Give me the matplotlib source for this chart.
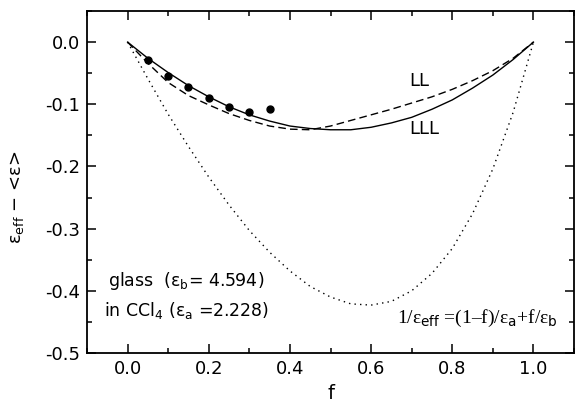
import matplotlib
matplotlib.use('Agg')
import matplotlib.pyplot as plt
from matplotlib.ticker import MultipleLocator

plt.rcParams['font.family'] = ['DejaVu Sans']
plt.rcParams['mathtext.fontset'] = 'custom'
plt.rcParams['mathtext.rm'] = 'DejaVu Sans'
plt.rcParams['mathtext.it'] = 'DejaVu Sans'
plt.rcParams['axes.unicode_minus'] = False

# volume fraction grid
f = [0.0, 0.05, 0.1, 0.15, 0.2, 0.25, 0.3, 0.35, 0.4, 0.45, 0.5,
     0.55, 0.6, 0.65, 0.7, 0.75, 0.8, 0.85, 0.9, 0.95, 1.0]

# LLL (solid)
lll = [0.0, -0.026, -0.049, -0.070, -0.088, -0.104, -0.117, -0.127, -0.135, -0.139, -0.141,
       -0.141, -0.137, -0.130, -0.121, -0.108, -0.093, -0.074, -0.053, -0.028, 0.0]
# LL (dashed)
ll = [0.0, -0.034, -0.065, -0.086, -0.101, -0.115, -0.126, -0.135, -0.140, -0.141, -0.135,
      -0.126, -0.117, -0.108, -0.098, -0.088, -0.076, -0.062, -0.046, -0.026, 0.0]
# 1/eps_eff = (1-f)/eps_a + f/eps_b (dotted)
series = [0.0, -0.059, -0.116, -0.168, -0.217, -0.262, -0.303, -0.338, -0.368, -0.393, -0.410,
          -0.421, -0.423, -0.417, -0.400, -0.372, -0.332, -0.276, -0.204, -0.113, 0.0]

# measured points
f_exp = [0.05, 0.1, 0.15, 0.2, 0.25, 0.3, 0.35]
d_exp = [-0.029, -0.054, -0.073, -0.090, -0.105, -0.113, -0.107]

fig = plt.figure(figsize=(5.75, 4.03), dpi=100)
ax = fig.add_axes([0.1513, 0.1241, 0.8470, 0.8486])

ax.plot(f, lll, color='black', lw=1.0)
ax.plot(f, ll, color='black', lw=1.0, linestyle=(0, (5.5, 3)))
ax.plot(f, series, color='black', lw=1.0, linestyle=(0, (1, 3)))
ax.plot(f_exp, d_exp, 'o', color='black', markersize=5)

ax.set_xlim(-0.1, 1.1)
ax.set_ylim(-0.5, 0.05)
ax.xaxis.set_minor_locator(MultipleLocator(0.1))
ax.yaxis.set_minor_locator(MultipleLocator(0.05))
ax.set_xticks([0.0, 0.2, 0.4, 0.6, 0.8, 1.0])
ax.set_xticklabels(['0.0', '0.2', '0.4', '0.6', '0.8', '1.0'])
ax.set_yticks([0.0, -0.1, -0.2, -0.3, -0.4, -0.5])
ax.set_yticklabels(['0.0', '-0.1', '-0.2', '-0.3', '-0.4', '-0.5'])

ax.tick_params(which='both', direction='in', top=True, right=True, width=1.1, labelsize=13, pad=5)
ax.tick_params(which='major', length=6.5)
ax.tick_params(which='minor', length=3.6)
for s in ax.spines.values():
    s.set_linewidth(1.3)

ax.set_xlabel('f', fontsize=14)
ax.xaxis.set_label_coords(0.5, -0.09)
fig.text(17 / 575, 1 - 197 / 403, 'ε$_{\\mathrm{eff}}$ $-$ <ε>', rotation=90,
         ha='center', va='center', fontsize=13)

ax.text(0.695, -0.063, 'LL', fontsize=13, ha='left', va='center')
ax.text(0.695, -0.139, 'LLL', fontsize=13, ha='left', va='center')
ax.text(0.145, -0.384, 'glass  (ε$_{\\mathrm{b}}$= 4.594)', fontsize=12.5, ha='center', va='center')
ax.text(0.145, -0.431, 'in CCl$_{4}$ (ε$_{\\mathrm{a}}$ =2.228)', fontsize=12.5, ha='center', va='center')
ax.text(0.665, -0.451, '1/ε$_{\\mathrm{eff}}$ =(1–f)/ε$_{\\mathrm{a}}$+f/ε$_{\\mathrm{b}}$',
        fontsize=14, family='Liberation Serif', ha='left', va='baseline')

fig.savefig('out.png', dpi=100)
